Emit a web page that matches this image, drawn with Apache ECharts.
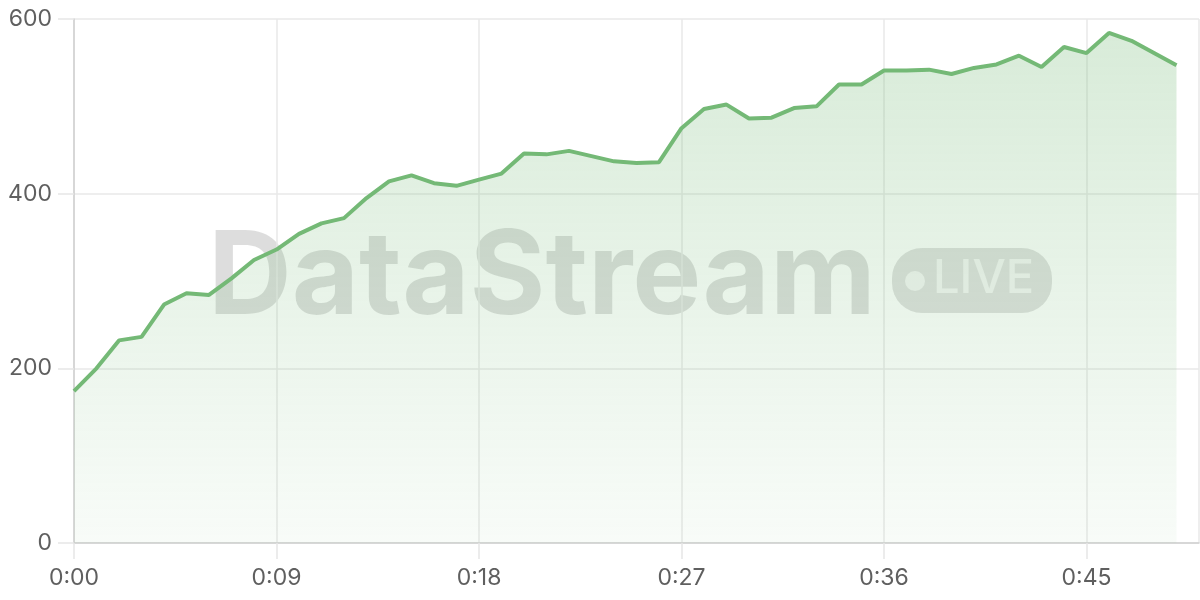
<!DOCTYPE html>
<html><head><meta charset="utf-8">
<script src="https://cdn.jsdelivr.net/npm/echarts@6/dist/echarts.min.js"></script>
<style>html,body{margin:0;padding:0;background:#fff}#c{width:1200px;height:600px}</style>
</head><body><div id="c"></div>
<script>
const seconds = [0,1,2,3,4,5,6,7,8,9,10,11,12,13,14,15,16,17,18,19,20,21,22,23,24,25,26,27,28,29,30,31,32,33,34,35,36,37,38,39,40,41,42,43,44,45,46,47,48,49];
const values = [174,200,232,236,273,286,284,303,324,336,354,366,372,395,414,421,412,409,416,423,446,445,449,443,437,435,436,475,497,502,486,487,498,500,525,525,541,541,542,537,544,548,558,545,568,561,584,575,561,547];
const watermarkText = 'DataStream';
const badgeText = 'LIVE';

const chart = echarts.init(document.getElementById('c'));
const fmt = v => Math.floor(v / 60) + ':' + String(v % 60).padStart(2, '0');
chart.setOption({
  animation: false,
  grid: { left: 74, right: 1, top: 19, bottom: 57 },
  graphic: [
    { type: 'text', z: 0, left: 208, top: 221,
      style: { text: watermarkText, fontFamily: 'Inter', fontWeight: 'bold', fontSize: 116, fill: 'rgba(0,0,0,0.135)' } },
    { type: 'rect', z: 0, shape: { x: 892, y: 248, width: 160, height: 65, r: 30 },
      style: { fill: 'rgba(0,0,0,0.12)' } },
    { type: 'circle', z: 1, shape: { cx: 915, cy: 281, r: 10 },
      style: { fill: 'rgba(255,255,255,0.65)' } },
    { type: 'text', z: 1, left: 933, top: 255,
      style: { text: badgeText, fontFamily: 'Inter', fontWeight: 500, fontSize: 47, fill: 'rgba(255,255,255,0.65)' } }
  ],
  xAxis: {
    type: 'value', min: 0, max: 50, interval: 9,
    axisLine: { lineStyle: { color: '#cfcfcf', width: 1.5 } },
    axisTick: { show: true, length: 16, lineStyle: { color: '#e6e6e6', width: 1.5 } },
    splitLine: { show: true, lineStyle: { color: '#e8e8e8', width: 1.5 } },
    axisLabel: { formatter: fmt, showMaxLabel: false, margin: 24, fontSize: 23, fontFamily: 'Inter', color: '#5f5f5f' }
  },
  yAxis: {
    type: 'value', min: 0, max: 600, interval: 200,
    axisLine: { show: true, lineStyle: { color: '#cfcfcf', width: 1.5 } },
    axisTick: { show: true, length: 16, lineStyle: { color: '#e6e6e6', width: 1.5 } },
    splitLine: { show: true, lineStyle: { color: '#e8e8e8', width: 1.5 } },
    axisLabel: { margin: 22, fontSize: 23, fontFamily: 'Inter', color: '#5f5f5f' }
  },
  series: [{
    type: 'line', z: 3,
    data: seconds.map((s, i) => [s, values[i]]),
    showSymbol: false, symbol: 'none',
    lineStyle: { color: '#74b976', width: 4 },
    areaStyle: {
      color: new echarts.graphic.LinearGradient(0, 0, 0, 1, [
        { offset: 0, color: 'rgba(116,185,118,0.4)' },
        { offset: 1, color: 'rgba(116,185,118,0.07)' }
      ])
    }
  }]
});
</script></body></html>
